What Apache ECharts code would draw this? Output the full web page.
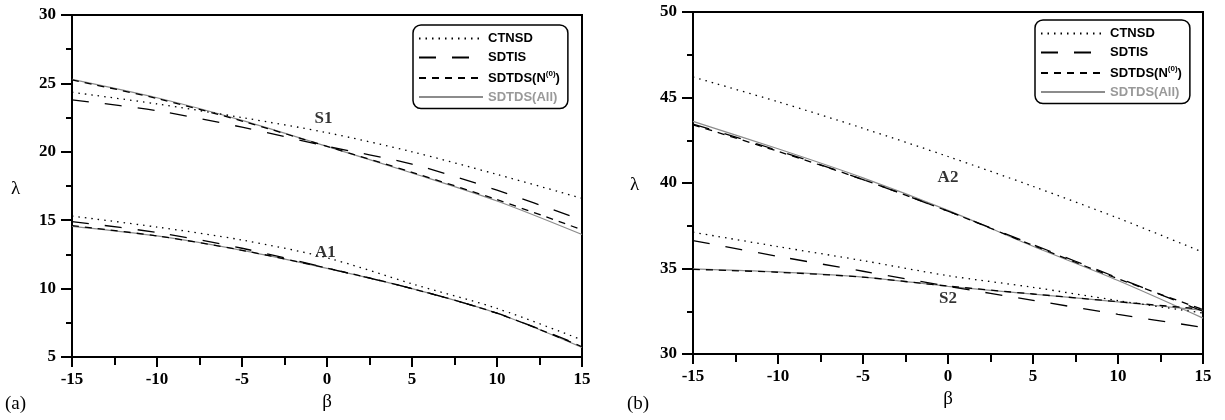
<!DOCTYPE html>
<html>
<head>
<meta charset="utf-8">
<script src="https://cdn.jsdelivr.net/npm/echarts@6/dist/echarts.min.js"></script>
<style>
  html, body { margin: 0; padding: 0; background: #fff; }
  #chart { width: 1225px; height: 420px; }
</style>
</head>
<body>
<div id="chart"></div>
<script>
// beta values (x axis)
var beta = [-15, -10, -5, 0, 5, 10, 15]

// panel (a): modes S1 and A1
var s1Ctnsd = [24.35, 23.5, 22.5, 21.4, 20.0, 18.35, 16.6]
var s1Sdtis = [23.8, 23.0, 21.8, 20.4, 19.1, 17.2, 15.0]
var s1N0 = [25.25, 23.9, 22.25, 20.4, 18.5, 16.5, 14.3]
var s1All = [25.3, 23.95, 22.3, 20.4, 18.45, 16.4, 13.95]

var a1Ctnsd = [15.3, 14.5, 13.55, 12.25, 10.35, 8.55, 6.25]
var a1Sdtis = [14.9, 14.1, 12.95, 11.5, 10.0, 8.2, 5.8]
var a1N0 = [14.6, 13.85, 12.8, 11.5, 10.0, 8.2, 5.75]
var a1All = [14.55, 13.85, 12.8, 11.48, 10.0, 8.2, 5.7]

// panel (b): modes A2 and S2
var a2Ctnsd = [46.2, 44.75, 43.2, 41.55, 39.8, 37.95, 35.95]
var a2Sdtis = [43.45, 41.9, 40.2, 38.35, 36.4, 34.45, 32.5]
var a2N0 = [43.4, 41.85, 40.2, 38.35, 36.35, 34.4, 32.6]
var a2All = [43.6, 42.0, 40.3, 38.4, 36.3, 34.3, 32.1]

var s2Ctnsd = [37.12, 36.28, 35.46, 34.58, 33.9, 33.12, 32.4]
var s2Sdtis = [36.63, 35.71, 34.84, 33.96, 33.14, 32.32, 31.56]
var s2N0 = [34.95, 34.78, 34.49, 33.97, 33.51, 33.06, 32.62]
var s2All = [34.98, 34.8, 34.5, 33.96, 33.5, 33.05, 32.55]

// mode labels
var modeNames = ['S1', 'A1', 'A2', 'S2']
var modeBeta = [-0.2, -0.1, 0, 0]
var modeLambda = [22.45, 12.6, 40.3, 33.25]
var modePanel = [0, 0, 1, 1]

var legendNames = ['CTNSD', 'SDTIS', 'SDTDS(N0)', 'SDTDS(All)']

var styles = {
  'CTNSD': { color: '#000', width: 1.3, type: [1.5, 5] },
  'SDTIS': { color: '#000', width: 1.3, type: [17, 16] },
  'SDTDS(N0)': { color: '#000', width: 1.3, type: [7, 6] },
  'SDTDS(All)': { color: '#8c8c8c', width: 1.2, type: 'solid' }
}

function pairs (ys) {
  return beta.map(function (b, i) { return [b, ys[i]] })
}

function curve (name, ys, panel) {
  var st = styles[name]
  return {
    name: name,
    type: 'line',
    xAxisIndex: panel,
    yAxisIndex: panel,
    data: pairs(ys),
    smooth: 0.3,
    symbol: 'none',
    silent: true,
    lineStyle: { color: st.color, width: st.width, type: st.type },
    itemStyle: { color: st.color },
    z: name === 'SDTDS(All)' ? 1 : 2
  }
}

var serif = 'Liberation Serif'
var sans = 'Liberation Sans'

function xAxisFor (panel) {
  return {
    gridIndex: panel,
    type: 'value',
    min: -15,
    max: 15,
    interval: 5,
    name: 'β',
    nameLocation: 'middle',
    nameGap: 36,
    nameTextStyle: { fontFamily: serif, fontSize: 19, color: '#000' },
    axisLine: { onZero: false, lineStyle: { color: '#000', width: 2 } },
    axisTick: { inside: false, length: 10, lineStyle: { color: '#000', width: 2 } },
    minorTick: { show: true, splitNumber: 2, length: 8, lineStyle: { color: '#000', width: 2 } },
    axisLabel: { margin: 14, fontFamily: serif, fontWeight: 'bold', fontSize: 17, color: '#000' },
    splitLine: { show: false }
  }
}

function yAxisFor (panel, min, max) {
  return {
    gridIndex: panel,
    type: 'value',
    min: min,
    max: max,
    interval: 5,
    axisLine: { onZero: false, lineStyle: { color: '#000', width: 2 } },
    axisTick: { length: 11, lineStyle: { color: '#000', width: 2 } },
    minorTick: { show: true, splitNumber: 2, length: 6, lineStyle: { color: '#000', width: 2 } },
    axisLabel: { margin: 16, fontFamily: serif, fontWeight: 'bold', fontSize: 17, color: '#000' },
    splitLine: { show: false }
  }
}

function legendFor (left, top) {
  return {
    orient: 'vertical',
    left: left,
    top: top,
    backgroundColor: '#fff',
    borderColor: '#000',
    borderWidth: 1.5,
    borderRadius: 8,
    padding: [7, 8, 5, 5],
    itemWidth: 64,
    itemHeight: 12,
    itemGap: 6,
    selectedMode: false,
    itemStyle: { opacity: 0 },
    data: legendNames.map(function (n) {
      return n === 'SDTDS(All)' ? { name: n, textStyle: { color: '#999' } } : { name: n }
    }),
    formatter: function (name) {
      return name === 'SDTDS(N0)' ? 'SDTDS(N{sup|(0)})' : name
    },
    textStyle: {
      fontFamily: sans,
      fontWeight: 'bold',
      fontSize: 13,
      color: '#000',
      rich: {
        sup: { fontFamily: sans, fontWeight: 'bold', fontSize: 8, padding: [0, 0, 8, 0] }
      }
    }
  }
}

var series = [
  curve('SDTDS(All)', s1All, 0), curve('SDTDS(All)', a1All, 0),
  curve('CTNSD', s1Ctnsd, 0), curve('CTNSD', a1Ctnsd, 0),
  curve('SDTIS', s1Sdtis, 0), curve('SDTIS', a1Sdtis, 0),
  curve('SDTDS(N0)', s1N0, 0), curve('SDTDS(N0)', a1N0, 0),
  curve('SDTDS(All)', a2All, 1), curve('SDTDS(All)', s2All, 1),
  curve('CTNSD', a2Ctnsd, 1), curve('CTNSD', s2Ctnsd, 1),
  curve('SDTIS', a2Sdtis, 1), curve('SDTIS', s2Sdtis, 1),
  curve('SDTDS(N0)', a2N0, 1), curve('SDTDS(N0)', s2N0, 1)
]

// mode name annotations
;[0, 1].forEach(function (panel) {
  var pts = []
  modeNames.forEach(function (n, i) {
    if (modePanel[i] === panel) pts.push({ value: [modeBeta[i], modeLambda[i]], name: n })
  })
  series.push({
    type: 'scatter',
    xAxisIndex: panel,
    yAxisIndex: panel,
    symbolSize: 0,
    silent: true,
    data: pts,
    label: {
      show: true,
      position: 'inside',
      formatter: '{b}',
      fontFamily: serif,
      fontWeight: 'bold',
      fontSize: 17,
      color: '#000'
    }
  })
})

var chart = echarts.init(document.getElementById('chart'), null, { renderer: 'canvas' })
chart.setOption({
  backgroundColor: '#fff',
  animation: false,
  grid: [
    { left: 72, top: 15, width: 510, height: 342, show: true, borderColor: '#000', borderWidth: 2 },
    { left: 693, top: 12, width: 510, height: 342, show: true, borderColor: '#000', borderWidth: 2 }
  ],
  xAxis: [xAxisFor(0), xAxisFor(1)],
  yAxis: [yAxisFor(0, 5, 30), yAxisFor(1, 30, 50)],
  legend: [legendFor(413, 25), legendFor(1035, 20)],
  graphic: [
    { type: 'text', left: 11, top: 180, style: { text: 'λ', font: '19px "Liberation Serif"', fill: '#000' } },
    { type: 'text', left: 630, top: 176, style: { text: 'λ', font: '19px "Liberation Serif"', fill: '#000' } },
    { type: 'text', left: 5, top: 395, style: { text: '(a)', font: '19px "Liberation Serif"', fill: '#000' } },
    { type: 'text', left: 627, top: 395, style: { text: '(b)', font: '19px "Liberation Serif"', fill: '#000' } }
  ],
  series: series
})
</script>
</body>
</html>
